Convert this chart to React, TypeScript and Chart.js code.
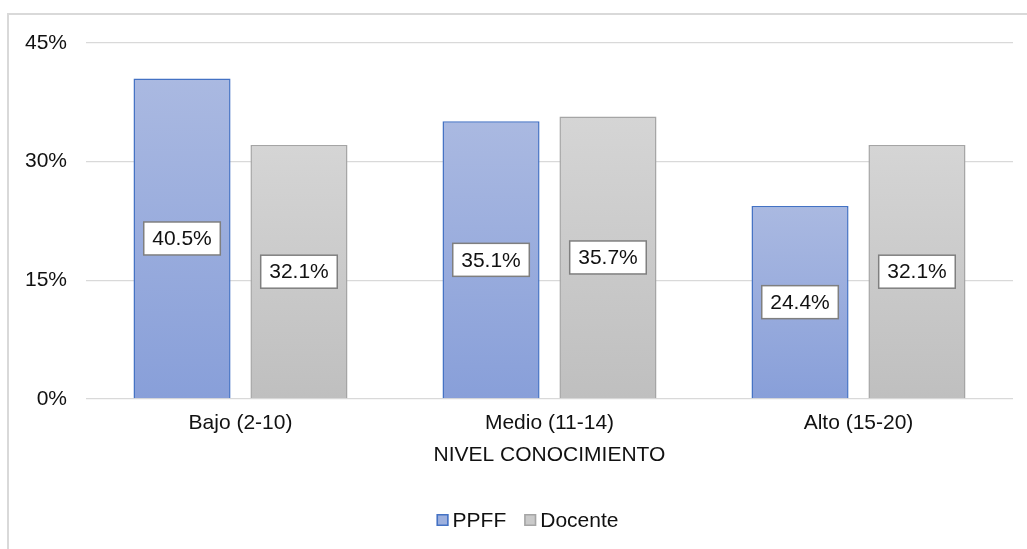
import React, { useEffect, useRef } from "react";
import { Chart, registerables } from "chart.js";

Chart.register(...registerables);

const categories = ["Bajo (2-10)", "Medio (11-14)", "Alto (15-20)"];
const ppff = [40.5, 35.1, 24.4];
const docente = [32.1, 35.7, 32.1];
const seriesNames = ["PPFF", "Docente"];
const yTicks = [0, 15, 30, 45];
const axisTitle = "NIVEL CONOCIMIENTO";

const FONT = "'Liberation Sans', Arial, sans-serif";
const FSIZE = 21;
const TEXT = "#111111";

const palette = [
  { top: "#aab9e1", bottom: "#889fd9", border: "#4472c4", swatch: "#9db0de" },
  { top: "#d5d5d5", bottom: "#bfbfbf", border: "#a5a5a5", swatch: "#cacaca" },
];

function barGradient(idx: number) {
  return (ctx: any) => {
    const p = palette[idx];
    if (ctx.type !== "data" || !ctx.parsed) return p.top;
    const chart = ctx.chart;
    const y = chart.scales.y;
    if (!y) return p.top;
    const top = y.getPixelForValue(ctx.parsed.y);
    const base = y.getPixelForValue(0);
    if (!isFinite(top) || !isFinite(base) || top === base) return p.top;
    const g = chart.ctx.createLinearGradient(0, top, 0, base);
    g.addColorStop(0, p.top);
    g.addColorStop(1, p.bottom);
    return g;
  };
}

// Boxed value labels centred on each bar
const valueLabels = {
  id: "valueLabels",
  afterDatasetsDraw(chart: any) {
    const ctx = chart.ctx;
    ctx.save();
    ctx.font = `${FSIZE}px ${FONT}`;
    ctx.textAlign = "center";
    ctx.textBaseline = "middle";
    chart.data.datasets.forEach((ds: any, di: number) => {
      const meta = chart.getDatasetMeta(di);
      meta.data.forEach((bar: any, i: number) => {
        const v = ds.data[i];
        const text = v.toFixed(1) + "%";
        const cx = bar.x;
        const cy = (bar.y + bar.base) / 2;
        const w = ctx.measureText(text).width + 17;
        const h = 33;
        ctx.fillStyle = "#ffffff";
        ctx.fillRect(cx - w / 2, cy - h / 2, w, h);
        ctx.lineWidth = 1.5;
        ctx.strokeStyle = "#7f7f7f";
        ctx.strokeRect(cx - w / 2, cy - h / 2, w, h);
        ctx.fillStyle = TEXT;
        ctx.fillText(text, cx, cy + 1);
      });
    });
    ctx.restore();
  },
};

// Legend row under the axis title
const bottomLegend = {
  id: "bottomLegend",
  afterDraw(chart: any) {
    const ctx = chart.ctx;
    ctx.save();
    ctx.font = `${FSIZE}px ${FONT}`;
    ctx.textBaseline = "middle";
    ctx.textAlign = "left";
    const box = 12;
    const gapText = 4;
    const gapItems = 18;
    const widths = seriesNames.map((n) => box + gapText + ctx.measureText(n).width);
    const total = widths.reduce((a, b) => a + b, 0) + gapItems * (widths.length - 1);
    let x = 527.5 - total / 2;
    const cy = 520;
    seriesNames.forEach((name, i) => {
      const p = palette[i];
      ctx.fillStyle = p.swatch;
      ctx.fillRect(x, cy - box / 2, box, box);
      ctx.lineWidth = 1.5;
      ctx.strokeStyle = p.border;
      ctx.strokeRect(x + 0.75, cy - box / 2 + 0.75, box - 1.5, box - 1.5);
      ctx.fillStyle = TEXT;
      ctx.fillText(name, x + box + gapText, cy + 1);
      x += widths[i] + gapItems;
    });
    ctx.restore();
  },
};

export default function App() {
  const canvasRef = useRef<HTMLCanvasElement | null>(null);

  useEffect(() => {
    if (!canvasRef.current) return;
    const chart = new Chart(canvasRef.current, {
      type: "bar",
      data: {
        labels: categories,
        datasets: [
          {
            label: seriesNames[0],
            data: ppff,
            backgroundColor: barGradient(0),
            borderColor: palette[0].border,
            borderWidth: 1.5,
            borderSkipped: "start",
            categoryPercentage: 0.757,
            barPercentage: 0.83,
          },
          {
            label: seriesNames[1],
            data: docente,
            backgroundColor: barGradient(1),
            borderColor: palette[1].border,
            borderWidth: 1.5,
            borderSkipped: "start",
            categoryPercentage: 0.757,
            barPercentage: 0.83,
          },
        ],
      },
      options: {
        responsive: false,
        animation: false,
        layout: { padding: { left: 0, right: 14, top: 43, bottom: 70 } },
        plugins: {
          legend: { display: false },
          tooltip: { enabled: false },
        },
        scales: {
          x: {
            grid: { display: false, drawTicks: false },
            border: { display: false },
            ticks: {
              color: TEXT,
              font: { family: FONT, size: FSIZE },
              padding: 12,
            },
            title: {
              display: true,
              text: axisTitle,
              color: TEXT,
              font: { family: FONT, size: FSIZE },
              padding: { top: 0, bottom: 11 },
            },
            afterFit(scale: any) {
              scale.height = 80;
            },
          },
          y: {
            min: 0,
            max: 45,
            afterBuildTicks(scale: any) {
              scale.ticks = yTicks.map((v) => ({ value: v }));
            },
            grid: { color: "#d9d9d9", lineWidth: 1.3, drawTicks: false },
            border: { display: false },
            ticks: {
              color: TEXT,
              font: { family: FONT, size: FSIZE },
              padding: 19,
              callback: (v: any) => v + "%",
            },
            afterFit(scale: any) {
              scale.width = 86;
            },
          },
        },
      },
      plugins: [valueLabels, bottomLegend],
    });
    return () => chart.destroy();
  }, []);

  return (
    <div
      style={{
        position: "fixed",
        left: 0,
        top: 0,
        width: 1027,
        height: 549,
        overflow: "hidden",
        background: "#ffffff",
      }}
    >
      <div
        style={{
          position: "absolute",
          left: 7,
          top: 13,
          width: 1100,
          height: 600,
          border: "2px solid #d9d9d9",
        }}
      />
      <canvas
        ref={canvasRef}
        width={1027}
        height={549}
        style={{ position: "absolute", left: 0, top: 0, display: "block" }}
      />
    </div>
  );
}
